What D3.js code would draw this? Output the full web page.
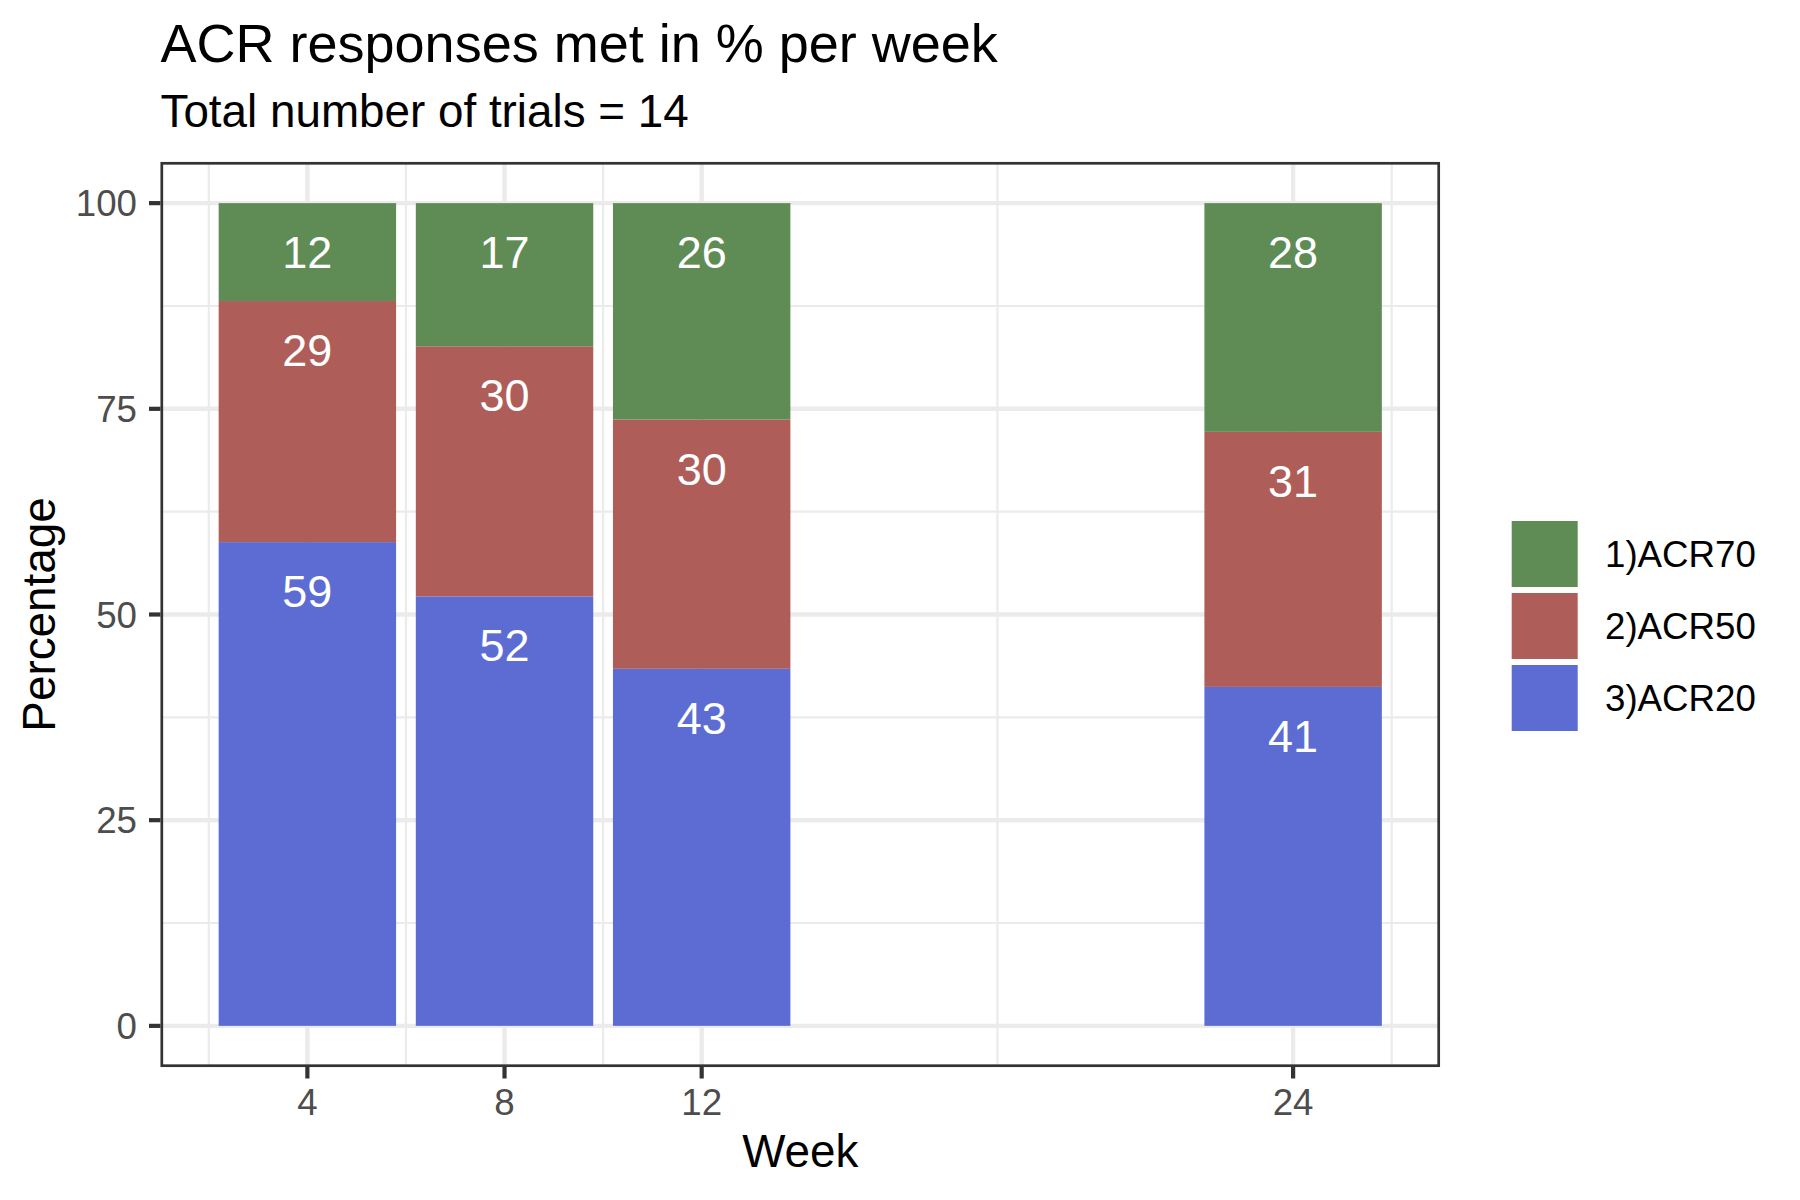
<!DOCTYPE html>
<html>
<head>
<meta charset="utf-8">
<script src="https://cdn.jsdelivr.net/npm/d3@7"></script>
<style>
  body { margin: 0; background: #fff; }
  svg { display: block; font-family: "Liberation Sans", Arial, sans-serif; }
</style>
</head>
<body>
<svg id="chart" width="1800" height="1200"></svg>
<script>
const weeks = [4, 8, 12, 24];
const acr20 = [58.8, 52.2, 43.4, 41.2];
const acr50 = [29.3, 30.4, 30.3, 31.0];
const acr70 = [11.9, 17.4, 26.3, 27.8];
const seriesKeys = ['3)ACR20', '2)ACR50', '1)ACR70'];
const legendOrder = ['1)ACR70', '2)ACR50', '3)ACR20'];
const yTicks = [0, 25, 50, 75, 100];
const yMinor = [12.5, 37.5, 62.5, 87.5];
const xMinor = [2, 6, 10, 18, 26];

const colors = { '3)ACR20': '#5D6CD3', '2)ACR50': '#AF5D59', '1)ACR70': '#5F8C55' };

const data = weeks.map((w, i) => ({ week: w, '3)ACR20': acr20[i], '2)ACR50': acr50[i], '1)ACR70': acr70[i] }));
const stacked = d3.stack().keys(seriesKeys)(data);

const panel = { left: 160.5, right: 1440, top: 162, bottom: 1067 };
const halfBar = 0.9 * 4 / 2;
const xLo = d3.min(weeks) - halfBar, xHi = d3.max(weeks) + halfBar;
const xPad = (xHi - xLo) * 0.05;

var xScale = d3.scaleLinear().domain([xLo - xPad, xHi + xPad]).range([panel.left, panel.right]);
var yScale = d3.scaleLinear().domain([-5, 105]).range([panel.bottom, panel.top]);

const svg = d3.select('#chart');
const grid = svg.append('g');

// gridlines
grid.selectAll('.ymin').data(yMinor).join('line')
  .attr('x1', panel.left).attr('x2', panel.right)
  .attr('y1', d => yScale(d)).attr('y2', d => yScale(d))
  .attr('stroke', '#EBEBEB').attr('stroke-width', 2.2);
grid.selectAll('.xmin').data(xMinor).join('line')
  .attr('y1', panel.top).attr('y2', panel.bottom)
  .attr('x1', d => xScale(d)).attr('x2', d => xScale(d))
  .attr('stroke', '#EBEBEB').attr('stroke-width', 2.2);
grid.selectAll('.ymaj').data(yTicks).join('line')
  .attr('x1', panel.left).attr('x2', panel.right)
  .attr('y1', d => yScale(d)).attr('y2', d => yScale(d))
  .attr('stroke', '#EBEBEB').attr('stroke-width', 4.4);
grid.selectAll('.xmaj').data(weeks).join('line')
  .attr('y1', panel.top).attr('y2', panel.bottom)
  .attr('x1', d => xScale(d)).attr('x2', d => xScale(d))
  .attr('stroke', '#EBEBEB').attr('stroke-width', 4.4);

// bars
const layers = svg.append('g').selectAll('g').data(stacked).join('g')
  .attr('fill', d => colors[d.key]);
layers.selectAll('rect').data(d => d).join('rect')
  .attr('x', d => xScale(d.data.week - halfBar))
  .attr('width', d => xScale(d.data.week + halfBar) - xScale(d.data.week - halfBar))
  .attr('y', d => yScale(d[1]))
  .attr('height', d => yScale(d[0]) - yScale(d[1]));

// labels
svg.append('g').selectAll('g').data(stacked).join('g')
  .selectAll('text').data(d => d.map(p => ({ week: p.data.week, top: p[1], val: p[1] - p[0] }))).join('text')
  .attr('x', d => xScale(d.week))
  .attr('y', d => yScale(d.top) + 65)
  .attr('text-anchor', 'middle')
  .attr('fill', '#fff')
  .attr('font-size', 45)
  .text(d => d3.format('.0f')(d.val));

// panel border
svg.append('rect')
  .attr('x', panel.left + 1.3).attr('y', panel.top + 1.3)
  .attr('width', panel.right - panel.left - 2.6).attr('height', panel.bottom - panel.top - 2.6)
  .attr('fill', 'none').attr('stroke', '#333333').attr('stroke-width', 2.7);

// axes
const yAxis = svg.append('g');
yAxis.selectAll('line').data(yTicks).join('line')
  .attr('x1', panel.left - 11.5).attr('x2', panel.left)
  .attr('y1', d => yScale(d)).attr('y2', d => yScale(d))
  .attr('stroke', '#333333').attr('stroke-width', 4.2);
yAxis.selectAll('text').data(yTicks).join('text')
  .attr('x', 137).attr('y', d => yScale(d) + 13)
  .attr('text-anchor', 'end').attr('fill', '#4D4D4D').attr('font-size', 36.7)
  .text(d => d);

const xAxis = svg.append('g');
xAxis.selectAll('line').data(weeks).join('line')
  .attr('y1', panel.bottom).attr('y2', panel.bottom + 11.5)
  .attr('x1', d => xScale(d)).attr('x2', d => xScale(d))
  .attr('stroke', '#333333').attr('stroke-width', 4.2);
xAxis.selectAll('text').data(weeks).join('text')
  .attr('x', d => xScale(d)).attr('y', 1114.5)
  .attr('text-anchor', 'middle').attr('fill', '#4D4D4D').attr('font-size', 36.7)
  .text(d => d);

svg.append('text').text('Week')
  .attr('x', (panel.left + panel.right) / 2).attr('y', 1167)
  .attr('text-anchor', 'middle').attr('font-size', 45.8);
svg.append('text').text('Percentage')
  .attr('transform', `translate(55,${(panel.top + panel.bottom) / 2}) rotate(-90)`)
  .attr('text-anchor', 'middle').attr('font-size', 45.8);

// titles
svg.append('text').text('ACR responses met in % per week')
  .attr('x', panel.left).attr('y', 62).attr('font-size', 54);
svg.append('text').text('Total number of trials = 14')
  .attr('x', panel.left).attr('y', 127).attr('font-size', 45.8);

// legend
const legend = svg.append('g').attr('transform', 'translate(1511.7,521)');
const items = legend.selectAll('g').data(legendOrder).join('g')
  .attr('transform', (d, i) => `translate(0,${i * 72})`);
items.append('rect').attr('width', 66).attr('height', 66).attr('fill', d => colors[d]);
items.append('text').text(d => d)
  .attr('x', 93.3).attr('y', 46).attr('font-size', 36.7);
</script>
</body>
</html>
